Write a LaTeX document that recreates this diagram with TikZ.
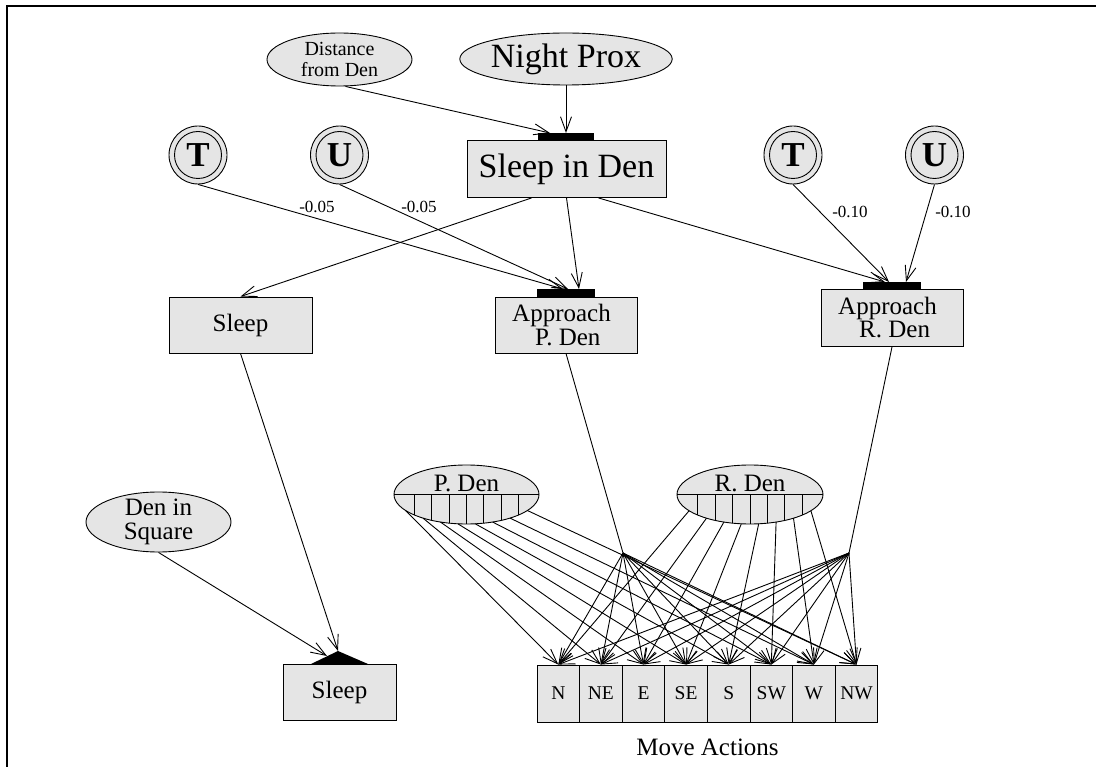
\documentclass[tikz,border=0pt]{standalone}
\usepackage{fontspec}
\setmainfont{Liberation Serif}
\usetikzlibrary{shapes.geometric,arrows.meta,calc}
\begin{document}
\begin{tikzpicture}[x=1pt,y=-1pt,
  ar/.style={-{Straight Barb[length=15pt,width=11pt]}, line width=0.9pt},
  ln/.style={line width=0.9pt},
  box/.style={draw, fill=black!10, line width=0.9pt, inner sep=0pt, rectangle},
  ell/.style={draw, fill=black!10, ellipse, inner sep=0pt, line width=0.9pt},
  barbox/.style={fill=black, inner sep=0pt, rectangle},
  outc/.style={circle, draw, fill=black!10, minimum size=58pt, line width=0.9pt, inner sep=0pt},
  inc/.style={circle, draw, minimum size=47pt, line width=0.9pt, inner sep=0pt, font=\fontsize{35}{35}\bfseries\selectfont},
  big/.style={font=\fontsize{34}{36}\selectfont},
  mid/.style={font=\fontsize{25}{24}\selectfont},
  sml/.style={font=\fontsize{20}{21}\selectfont},
  wt/.style={font=\fontsize{17}{18}\selectfont, inner sep=0pt},
  txt/.style={inner sep=0pt},
]
\useasboundingbox (0,0) rectangle (1096,767);
% frame
\draw[line width=1.2pt] (7,767) -- (7,6) -- (1096,6);

% top
\node[ell, minimum width=145pt, minimum height=53pt] (dfd) at (339.5,59.5) {};
\node[sml, align=center, txt] at (dfd) {Distance\\from Den};
\node[ell, minimum width=202pt, minimum height=52pt, big] (np) at (566,59) {Night Prox};

\node[box, minimum width=199pt, minimum height=57pt, big] (sid) at (566.5,169) {Sleep in Den};
\node[barbox, minimum width=56pt, minimum height=7pt, anchor=south] (sidbar) at (566,140) {};
\coordinate (sidA) at (550,133);
\coordinate (sidB) at (566,133);
\draw[ar] ([xshift=6pt]dfd.south) -- (sidA);
\draw[ar] (np.south) -- (sidB);

% utility circles
\node[outc] (t1) at (198,155) {};
\node[inc] at (t1) {T};
\node[outc] (u1) at (339.5,155) {};
\node[inc] at (u1) {U};
\node[outc] (t2) at (793,155) {};
\node[inc] at (t2) {T};
\node[outc] (u2) at (934.5,155) {};
\node[inc] at (u2) {U};

% second row
\node[box, minimum width=143pt, minimum height=56pt, mid] (sl) at (240.5,325) {Sleep};

\node[box, minimum width=142pt, minimum height=56pt] (app) at (566,325) {};
\node[mid, txt, anchor=base west] at (512,322) {Approach};
\node[mid, txt, anchor=base west] at (535,346) {P. Den};
\node[barbox, minimum width=58pt, minimum height=8pt, anchor=south] (appbar) at (566,297) {};

\node[box, minimum width=142pt, minimum height=57pt] (apr) at (892,318) {};
\node[mid, txt, anchor=base west] at (838,315) {Approach};
\node[mid, txt, anchor=base west] at (859,338) {R. Den};
\node[barbox, minimum width=58pt, minimum height=7pt, anchor=south] (aprbar) at (892,289) {};

\coordinate (appT) at (563,289);
\coordinate (appU) at (568,289);
\coordinate (appS) at (579,289);
\coordinate (aprS) at (885,282);
\coordinate (aprT) at (889,282);
\coordinate (aprU) at (906,282);

\draw[ar] (t1.south) -- (appT);
\draw[ar] (u1.south) -- (appU);
\draw[ar] (sid.south) -- (appS);
\draw[ar] ([xshift=32pt]sid.south) -- (aprS);
\draw[ar] (t2.south) -- (aprT);
\draw[ar] (u2.south) -- (aprU);
\draw[ar] ([xshift=-35pt]sid.south) -- (sl.north);

\node[wt] at (317,207) {-0.05};
\node[wt] at (419,207) {-0.05};
\node[wt] at (850,212) {-0.10};
\node[wt] at (953,212) {-0.10};

% Den in Square and bottom Sleep
\node[ell, minimum width=145pt, minimum height=60pt] (dis) at (158.5,522) {};
\node[mid, align=center, txt] at (dis) {Den in\\Square};
\node[box, minimum width=113pt, minimum height=56pt, mid] (bs) at (339.5,692) {Sleep};
\fill (311,664) -- (338,651) -- (368,664) -- cycle;
\coordinate (bsA) at (327,656);
\coordinate (bsB) at (338,651);
\draw[ar] (dis.south) -- (bsA);
\draw[ar] (sl.south) -- (bsB);

% P. Den / R. Den ellipses
\node[ell, minimum width=145pt, minimum height=59pt] (pd) at (466.5,494.5) {};
\node[ell, minimum width=146pt, minimum height=59pt] (rd) at (750,494.5) {};
\begin{scope}
  \clip (466.5,494.5) ellipse [x radius=72.5, y radius=29.5];
  \draw[ln] (380,494.5) -- (560,494.5);
  \foreach \k in {-3,...,3} \draw[ln] (466.5+17.4*\k,494.5) -- (466.5+17.4*\k,530);
\end{scope}
\begin{scope}
  \clip (750,494.5) ellipse [x radius=73, y radius=29.5];
  \draw[ln] (660,494.5) -- (840,494.5);
  \foreach \k in {-3,...,3} \draw[ln] (750+17.4*\k,494.5) -- (750+17.4*\k,530);
\end{scope}
\node[mid, txt, anchor=base] at (466.5,491) {P. Den};
\node[mid, txt, anchor=base] at (750,491) {R. Den};

% move actions
\foreach \lab [count=\i from 0] in {N,NE,E,SE,S,SW,W,NW}
  \node[box, minimum width=42.6pt, minimum height=57pt, font=\fontsize{19.5}{20}\selectfont] (m\i) at (537+42.6*\i+21.3,693.5) {\lab};
\node[mid, txt] at (707.5,747) {Move Actions};

\coordinate (jp) at (623,553);
\coordinate (jr) at (849,553);
\draw[ln] (app.south) -- (jp);
\draw[ln] (apr.south) -- (jr);

\foreach \k in {0,...,7} {
  \pgfmathsetmacro\dxp{(\k-3.5)*17.4}
  \pgfmathsetmacro\dyp{29.5*sqrt(1-(\dxp/72.5)^2)}
  \pgfmathsetmacro\dyr{29.5*sqrt(1-(\dxp/73)^2)}
  \draw[ar] ($(pd.center)+(\dxp,\dyp)$) -- (m\k.north);
  \draw[ar] ($(rd.center)+(\dxp,\dyr)$) -- (m\k.north);
  \draw[ar] (jp) -- (m\k.north);
  \draw[ar] (jr) -- (m\k.north);
}
\end{tikzpicture}
\end{document}
